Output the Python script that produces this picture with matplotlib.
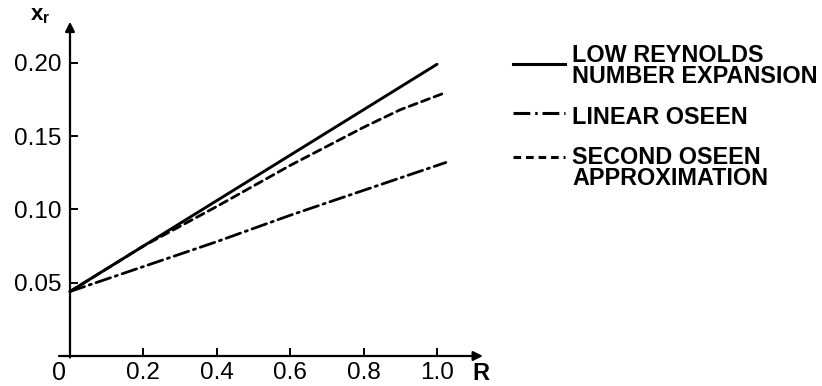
import matplotlib
matplotlib.use("Agg")
import matplotlib.pyplot as plt
from matplotlib.lines import Line2D

# --- data ---
R_low = [0.0, 0.2, 0.4, 0.6, 0.8, 1.0]
x_low = [0.044, 0.075, 0.106, 0.137, 0.168, 0.199]

R_lin = [0.0, 0.2, 0.4, 0.6, 0.8, 1.024]
x_lin = [0.044, 0.061, 0.078, 0.096, 0.113, 0.132]

R_second = [0.0, 0.2, 0.4, 0.6, 0.8, 0.9, 1.016]
x_second = [0.044, 0.075, 0.102, 0.130, 0.156, 0.168, 0.179]

y_ticks = [0.05, 0.10, 0.15, 0.20]
y_tick_labels = ["0.05", "0.10", "0.15", "0.20"]
x_ticks = [0.2, 0.4, 0.6, 0.8, 1.0]
x_tick_labels = ["0.2", "0.4", "0.6", "0.8", "1.0"]

legend_labels = ["LOW REYNOLDS\nNUMBER EXPANSION", "LINEAR OSEEN",
                 "SECOND OSEEN\nAPPROXIMATION"]

plt.rcParams['font.family'] = ['Liberation Sans', 'DejaVu Sans']
plt.rcParams['mathtext.fontset'] = 'custom'
plt.rcParams['mathtext.rm'] = 'Liberation Sans'
plt.rcParams['mathtext.bf'] = 'Liberation Sans:bold'
W, H = 822, 386
fig = plt.figure(figsize=(W / 100, H / 100), dpi=100)


def px(x, y):
    # pixel position (from top-left) -> figure fraction
    return x / W, 1 - y / H


# axes placed so that R=0 sits at x=70px and x_r=0 at y=356px
xlim = (-0.04, 1.13)
ylim = (-0.005, 0.235)
sx, sy = 367.0, 1466.0
left = 70 + xlim[0] * sx
right = 70 + xlim[1] * sx
top = 356 - ylim[1] * sy
bottom = 356 - ylim[0] * sy
ax = fig.add_axes([left / W, 1 - bottom / H, (right - left) / W, (bottom - top) / H])
ax.set_xlim(*xlim)
ax.set_ylim(*ylim)
# ticks follow the spines, so park the spines on the zero lines and hide them
ax.spines['left'].set_position(('data', 0))
ax.spines['bottom'].set_position(('data', 0))
for s in ax.spines.values():
    s.set_visible(False)

ink = 'black'
axis_lw = 1.6

# axes with arrow heads
ax.annotate('', xy=(1.125, 0), xytext=(-0.03, 0),
            arrowprops=dict(arrowstyle='-|>', lw=axis_lw, color=ink,
                            mutation_scale=14, shrinkA=0, shrinkB=0))
ax.annotate('', xy=(0, 0.228), xytext=(0, -0.001),
            arrowprops=dict(arrowstyle='-|>', lw=axis_lw, color=ink,
                            mutation_scale=14, shrinkA=0, shrinkB=0))

ax.set_xticks(x_ticks)
ax.set_xticklabels(x_tick_labels)
ax.set_yticks(y_ticks)
ax.set_yticklabels(y_tick_labels)
ax.tick_params(direction='in', length=6, width=1.4, labelsize=17.5, color=ink)
ax.tick_params(axis='x', pad=4)
ax.tick_params(axis='y', pad=6)

# curves
ax.plot(R_low, x_low, color=ink, lw=2.1, solid_capstyle='round')
ax.plot(R_lin, x_lin, color=ink, lw=2.0, dashes=(5.5, 1.8, 0.8, 1.8),
        dash_capstyle='round')
ax.plot(R_second, x_second, color=ink, lw=2.0, dashes=(3.0, 1.8),
        dash_capstyle='round')

# axis annotations
fig.text(*px(59, 373), "0", fontsize=18, ha='center', va='center')
fig.text(*px(481, 373), "R", fontsize=17, fontweight='bold', ha='center', va='center')
fig.text(*px(40, 16), r"$\mathbf{x}_\mathbf{r}$", fontsize=16, ha='center', va='center')

# legend drawn by hand
keys = [dict(ls='-'), dict(dashes=(5.5, 1.6, 0.8, 1.6)), dict(dashes=(2.5, 1.6))]
key_y = [64, 113, 157]
text_y = [66, 118, 168]
for lab, k, ky, ty in zip(legend_labels, keys, key_y, text_y):
    x0, y0 = px(513, ky)
    x1, _ = px(565, ky)
    fig.add_artist(Line2D([x0, x1], [y0, y0], color=ink, lw=2.2,
                          transform=fig.transFigure, **k))
    fig.text(*px(572, ty), lab, fontsize=16.8, fontweight='bold',
             ha='left', va='center', linespacing=0.92)

fig.savefig("out.png", dpi=100)
